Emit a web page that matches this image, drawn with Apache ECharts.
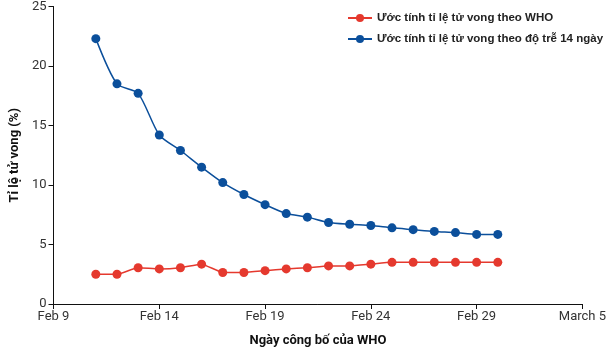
<!doctype html>
<html>
	<head>
		<meta charset="UTF-8">
		<title></title>
		<script src="https://cdn.jsdelivr.net/npm/echarts@6/dist/echarts.min.js"></script>
		<style>
			html, body { margin: 0; padding: 0; background: #fff; }
			#main { width: 609px; height: 352px; }
		</style>
	</head>
	<body>
		<div id="main"></div>
		<script type="text/javascript">
			// ngày tính từ Feb 9 (2020, năm nhuận)
			var days = [2, 3, 4, 5, 6, 7, 8, 9, 10, 11, 12, 13, 14, 15, 16, 17, 18, 19, 20, 21];
			var whoRate = [2.5, 2.5, 3.05, 2.95, 3.05, 3.35, 2.65, 2.65, 2.8, 2.95, 3.05, 3.2, 3.2, 3.35, 3.5, 3.5, 3.5, 3.5, 3.5, 3.5];
			var lagRate = [22.3, 18.5, 17.7, 14.2, 12.9, 11.5, 10.2, 9.2, 8.35, 7.6, 7.3, 6.85, 6.7, 6.6, 6.4, 6.25, 6.1, 6.0, 5.85, 5.85];
			var xTickLabels = ['Feb 9', 'Feb 14', 'Feb 19', 'Feb 24', 'Feb 29', 'March 5'];
			var seriesNames = ['Ước tính tỉ lệ tử vong theo WHO', 'Ước tính tỉ lệ tử vong theo độ trễ 14 ngày'];

			function pairs(vals) {
				var out = [];
				for (var i = 0; i < days.length; i++) {
					out.push([days[i], vals[i]]);
				}
				return out;
			}

			var axisFont = 'Roboto, sans-serif';
			var myChart = echarts.init(document.getElementById('main'));
			var option = {
				animation: false,
				color: ['#e5392e', '#0b4f9b'],
				legend: {
					orient: 'vertical',
					left: 342,
					top: 7,
					itemWidth: 24,
					itemHeight: 10,
					itemGap: 9,
					data: seriesNames,
					textStyle: {
						fontFamily: '"Liberation Sans", Arial, sans-serif',
						fontWeight: 'bold',
						fontSize: 11.5,
						color: '#222'
					}
				},
				grid: {
					left: 43,
					right: 19,
					top: 5,
					bottom: 48,
					containLabel: false
				},
				xAxis: {
					type: 'value',
					min: 0,
					max: 25,
					interval: 5,
					name: 'Ngày công bố của WHO',
					nameLocation: 'middle',
					nameGap: 30,
					nameTextStyle: {
						fontFamily: axisFont,
						fontWeight: 'bold',
						fontSize: 13,
						color: '#111'
					},
					axisLine: { show: true, lineStyle: { color: '#111', width: 1 } },
					axisTick: { show: true, length: 5, lineStyle: { color: '#111' } },
					axisLabel: {
						fontFamily: axisFont,
						fontSize: 13,
						color: '#333',
						margin: 6,
						formatter: function (v) {
							return xTickLabels[Math.round(v / 5)];
						}
					},
					splitLine: { show: false }
				},
				yAxis: {
					type: 'value',
					min: 0,
					max: 25,
					interval: 5,
					name: 'Tỉ lệ tử vong (%)',
					nameLocation: 'middle',
					nameGap: 29,
					nameTextStyle: {
						fontFamily: axisFont,
						fontWeight: 'bold',
						fontSize: 13,
						color: '#111'
					},
					axisLine: { show: true, lineStyle: { color: '#111', width: 1 } },
					axisTick: { show: true, length: 5, lineStyle: { color: '#111' } },
					axisLabel: {
						fontFamily: axisFont,
						fontSize: 13,
						color: '#333',
						margin: 7
					},
					splitLine: { show: false }
				},
				series: [
					{
						name: seriesNames[0],
						type: 'line',
						symbol: 'circle',
						symbolSize: 9,
						smooth: 0.15,
						lineStyle: { width: 1.5 },
						data: pairs(whoRate)
					},
					{
						name: seriesNames[1],
						type: 'line',
						symbol: 'circle',
						symbolSize: 9,
						smooth: 0.25,
						lineStyle: { width: 1.5 },
						data: pairs(lagRate)
					}
				]
			};
			myChart.setOption(option);
		</script>
	</body>
</html>
